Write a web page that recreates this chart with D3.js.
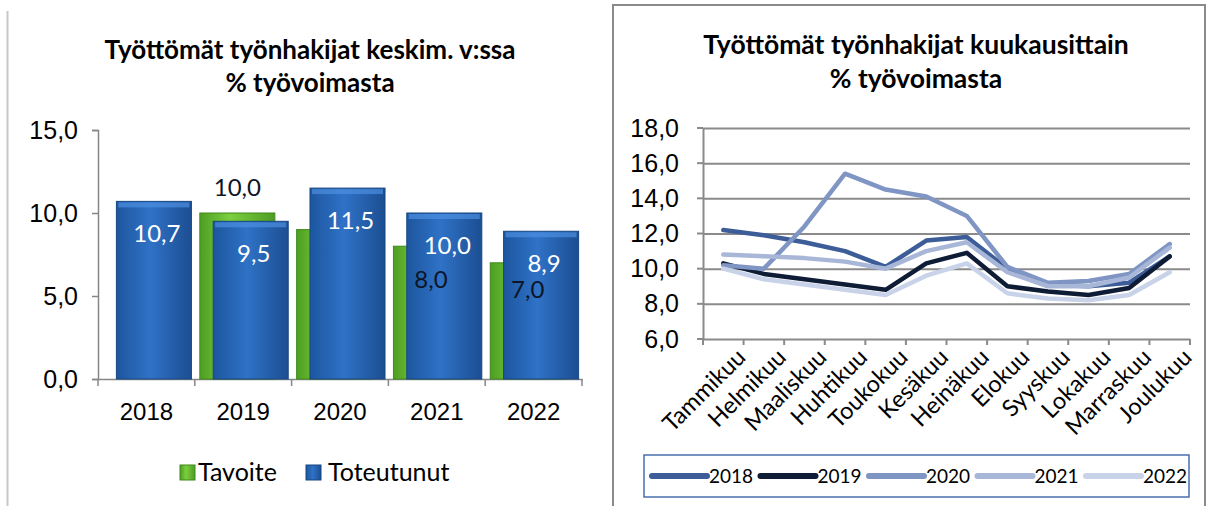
<!DOCTYPE html>
<html>
<head>
<meta charset="utf-8">
<script src="https://cdn.jsdelivr.net/npm/d3@7"></script>
<style>
  body { margin: 0; background: #fff; }
  svg { display: block; font-family: Lato, "Open Sans", sans-serif; }
</style>
</head>
<body>
<svg id="chart" width="1210" height="506"></svg>
<script>
// left chart data
const years = ["2018", "2019", "2020", "2021", "2022"];
const tavoite = [null, 10.0, 9.0, 8.0, 7.0];
const toteutunut = [10.7, 9.5, 11.5, 10.0, 8.9];
const leftTicks = [0, 5, 10, 15];

// right chart data
const months = ["Tammikuu", "Helmikuu", "Maaliskuu", "Huhtikuu", "Toukokuu", "Kesäkuu",
                "Heinäkuu", "Elokuu", "Syyskuu", "Lokakuu", "Marraskuu", "Joulukuu"];
const lineYears = ["2018", "2019", "2020", "2021", "2022"];
const m2018 = [12.2, 11.9, 11.5, 11.0, 10.1, 11.6, 11.8, 10.0, 9.1, 9.0, 9.2, 10.7];
const m2019 = [10.3, 9.7, 9.4, 9.1, 8.8, 10.3, 10.9, 9.0, 8.7, 8.5, 8.9, 10.7];
const m2020 = [10.2, 10.0, 12.4, 15.4, 14.5, 14.1, 13.0, 10.1, 9.2, 9.3, 9.7, 11.4];
const m2021 = [10.8, 10.7, 10.6, 10.4, 10.0, 11.0, 11.5, 9.8, 9.0, 9.0, 9.5, 11.2];
const m2022 = [10.0, 9.4, 9.1, 8.8, 8.5, 9.6, 10.3, 8.6, 8.3, 8.2, 8.5, 9.8];
const rightTicks = [6, 8, 10, 12, 14, 16, 18];

const lineColors = ["#3d5d98", "#0f1c36", "#7f95c3", "#a8b6d7", "#c8d2e8"];
const fmt = d => d3.format(".1f")(d).replace(".", ",");

const svg = d3.select("#chart");
const defs = svg.append("defs");

// bar gradients
const blueGrad = defs.append("linearGradient").attr("id", "blueGrad")
    .attr("x1", 0).attr("x2", 1).attr("y1", 0).attr("y2", 0);
blueGrad.append("stop").attr("offset", "0%").attr("stop-color", "#1d569f");
blueGrad.append("stop").attr("offset", "45%").attr("stop-color", "#2f72c6");
blueGrad.append("stop").attr("offset", "100%").attr("stop-color", "#1c4e92");
const greenGrad = defs.append("linearGradient").attr("id", "greenGrad")
    .attr("x1", 0).attr("x2", 1).attr("y1", 0).attr("y2", 0);
greenGrad.append("stop").attr("offset", "0%").attr("stop-color", "#4e9e22");
greenGrad.append("stop").attr("offset", "40%").attr("stop-color", "#7ccf3f");
greenGrad.append("stop").attr("offset", "100%").attr("stop-color", "#4f9c25");

// ---------- left chart ----------
const left = svg.append("g");
left.append("line").attr("x1", 7.5).attr("x2", 7.5).attr("y1", 11).attr("y2", 506)
    .attr("stroke", "#c8c8c8").attr("stroke-width", 2);

left.append("text").attr("x", 310).attr("y", 59).attr("text-anchor", "middle")
    .attr("font-size", 26).attr("font-weight", "bold").text("Työttömät työnhakijat keskim. v:ssa");
left.append("text").attr("x", 310).attr("y", 92).attr("text-anchor", "middle")
    .attr("font-size", 26).attr("font-weight", "bold").text("% työvoimasta");

const xL = d3.scaleBand().domain(years).range([98, 582]);
const yL = d3.scaleLinear().domain([0, 15]).range([379, 130]);
const bw = xL.bandwidth();

const yAxisL = left.append("g").attr("transform", "translate(98,0)")
    .call(d3.axisLeft(yL).tickValues(leftTicks).tickSize(6).tickPadding(14).tickFormat(fmt));
yAxisL.selectAll("text").attr("font-size", 25).attr("fill", "#000");
yAxisL.selectAll("line, path").attr("stroke", "#868686").attr("stroke-width", 1.5);

const xAxisL = left.append("g").attr("transform", "translate(0,379)")
    .call(d3.axisBottom(xL).tickSize(0).tickPadding(24));
xAxisL.selectAll("text").attr("font-size", 24).attr("fill", "#000");
xAxisL.select("path").attr("stroke", "#868686").attr("stroke-width", 1.5);
left.selectAll("line.cat").data(years.concat(["end"])).join("line").attr("class", "cat")
    .attr("x1", (d, i) => i < years.length ? xL(d) : xL.range()[1])
    .attr("x2", (d, i) => i < years.length ? xL(d) : xL.range()[1])
    .attr("y1", 379).attr("y2", 386).attr("stroke", "#868686").attr("stroke-width", 1.5);

const greenData = years.map((y, i) => ({ y, v: tavoite[i], i })).filter(d => d.v !== null);
const blueData = years.map((y, i) => ({ y, v: toteutunut[i], i }));

left.selectAll("rect.g").data(greenData).join("rect").attr("class", "g")
    .attr("x", d => xL(d.y) + bw * 0.052).attr("width", bw * 0.775)
    .attr("y", d => yL(d.v)).attr("height", d => yL(0) - yL(d.v))
    .attr("fill", "url(#greenGrad)").attr("stroke", "#3f8a1b").attr("stroke-width", 1);

left.selectAll("rect.b").data(blueData).join("rect").attr("class", "b")
    .attr("x", d => xL(d.y) + bw * 0.19).attr("width", bw * 0.775)
    .attr("y", d => yL(d.v)).attr("height", d => yL(0) - yL(d.v))
    .attr("fill", "url(#blueGrad)").attr("stroke", "#174782").attr("stroke-width", 1);
// top highlight
left.selectAll("rect.bh").data(blueData).join("rect").attr("class", "bh")
    .attr("x", d => xL(d.y) + bw * 0.19 + 2).attr("width", bw * 0.775 - 4)
    .attr("y", d => yL(d.v) + 1).attr("height", 5)
    .attr("fill", "#4d8ee0").attr("opacity", 0.7);

left.selectAll("text.bl").data(blueData).join("text").attr("class", "bl")
    .attr("x", d => xL(d.y) + bw * 0.19 + bw * 0.775 / 2 + 3)
    .attr("y", d => yL(d.v) + 41)
    .attr("text-anchor", "middle").attr("font-size", 24).attr("fill", "#fff")
    .text(d => fmt(d.v));

// target labels: first one sits above its bar, the rest inside
const greenLabelDy = { 1: -17, 2: null, 3: 42, 4: 35 };
left.selectAll("text.gl").data(greenData.filter(d => greenLabelDy[d.i] !== null)).join("text").attr("class", "gl")
    .attr("x", d => xL(d.y) + bw * 0.052 + bw * 0.775 / 2)
    .attr("y", d => yL(d.v) + greenLabelDy[d.i])
    .attr("text-anchor", "middle").attr("font-size", 24).attr("fill", "#0d1526")
    .text(d => fmt(d.v));

// left legend
const legL = left.append("g").attr("transform", "translate(180,465)");
legL.append("rect").attr("width", 15).attr("height", 15).attr("fill", "url(#greenGrad)").attr("stroke", "#3f8a1b");
legL.append("text").attr("x", 18).attr("y", 16).attr("font-size", 25).text("Tavoite");
legL.append("rect").attr("x", 126).attr("width", 15).attr("height", 15).attr("fill", "url(#blueGrad)").attr("stroke", "#174782");
legL.append("text").attr("x", 148).attr("y", 16).attr("font-size", 25).text("Toteutunut");

// ---------- right chart ----------
const right = svg.append("g");
right.append("rect").attr("x", 613).attr("y", 5).attr("width", 592).attr("height", 510)
    .attr("fill", "#fff").attr("stroke", "#8a8a8a").attr("stroke-width", 2);

right.append("text").attr("x", 916).attr("y", 54).attr("text-anchor", "middle")
    .attr("font-size", 26.5).attr("font-weight", "bold").text("Työttömät työnhakijat kuukausittain");
right.append("text").attr("x", 916).attr("y", 88).attr("text-anchor", "middle")
    .attr("font-size", 26.5).attr("font-weight", "bold").text("% työvoimasta");

const xR = d3.scaleBand().domain(months).range([703, 1190]);
const yR = d3.scaleLinear().domain([6, 18]).range([339, 128]);

const yAxisR = right.append("g").attr("transform", "translate(703,0)")
    .call(d3.axisLeft(yR).tickValues(rightTicks).tickSizeInner(-(1190 - 703)).tickSizeOuter(0).tickPadding(24).tickFormat(fmt));
yAxisR.selectAll("text").attr("font-size", 25).attr("fill", "#000");
yAxisR.selectAll(".tick line").attr("stroke", "#8a8a8a").attr("stroke-width", 2);
yAxisR.select("path").attr("stroke", "#8a8a8a").attr("stroke-width", 2);
right.selectAll("line.yt").data(rightTicks).join("line").attr("class", "yt")
    .attr("x1", 697).attr("x2", 703).attr("y1", d => yR(d)).attr("y2", d => yR(d))
    .attr("stroke", "#8a8a8a").attr("stroke-width", 2);

right.selectAll("line.mt").data(months.concat(["end"])).join("line").attr("class", "mt")
    .attr("x1", (d, i) => i < months.length ? xR(d) : xR.range()[1])
    .attr("x2", (d, i) => i < months.length ? xR(d) : xR.range()[1])
    .attr("y1", 339).attr("y2", 345).attr("stroke", "#8a8a8a").attr("stroke-width", 2);

right.selectAll("text.month").data(months).join("text").attr("class", "month")
    .attr("transform", d => `translate(${xR(d) + xR.bandwidth() / 2 + 12},347) rotate(-45)`)
    .attr("text-anchor", "end").attr("dy", "0.7em").attr("font-size", 23.5).attr("fill", "#000")
    .text(d => d);

const seriesValues = [m2018, m2019, m2020, m2021, m2022];
const line = d3.line()
    .x((d, i) => xR(months[i]) + xR.bandwidth() / 2)
    .y(d => yR(d));

right.selectAll("path.series").data(seriesValues).join("path").attr("class", "series")
    .attr("d", line).attr("fill", "none")
    .attr("stroke", (d, i) => lineColors[i]).attr("stroke-width", 4.5)
    .attr("stroke-linejoin", "round").attr("stroke-linecap", "round");

// right legend
right.append("rect").attr("x", 644).attr("y", 455).attr("width", 545).attr("height", 42)
    .attr("fill", "#fff").attr("stroke", "#4a6fb0").attr("stroke-width", 1.5);
const legR = right.selectAll("g.leg").data(lineYears).join("g").attr("class", "leg")
    .attr("transform", (d, i) => `translate(${652 + i * 108.5},476)`);
legR.append("line").attr("x1", 0).attr("x2", 55).attr("y1", 0).attr("y2", 0)
    .attr("stroke", (d, i) => lineColors[i]).attr("stroke-width", 6).attr("stroke-linecap", "round");
legR.append("text").attr("x", 57).attr("y", 7).attr("font-size", 19).text(d => d);
</script>
</body>
</html>
